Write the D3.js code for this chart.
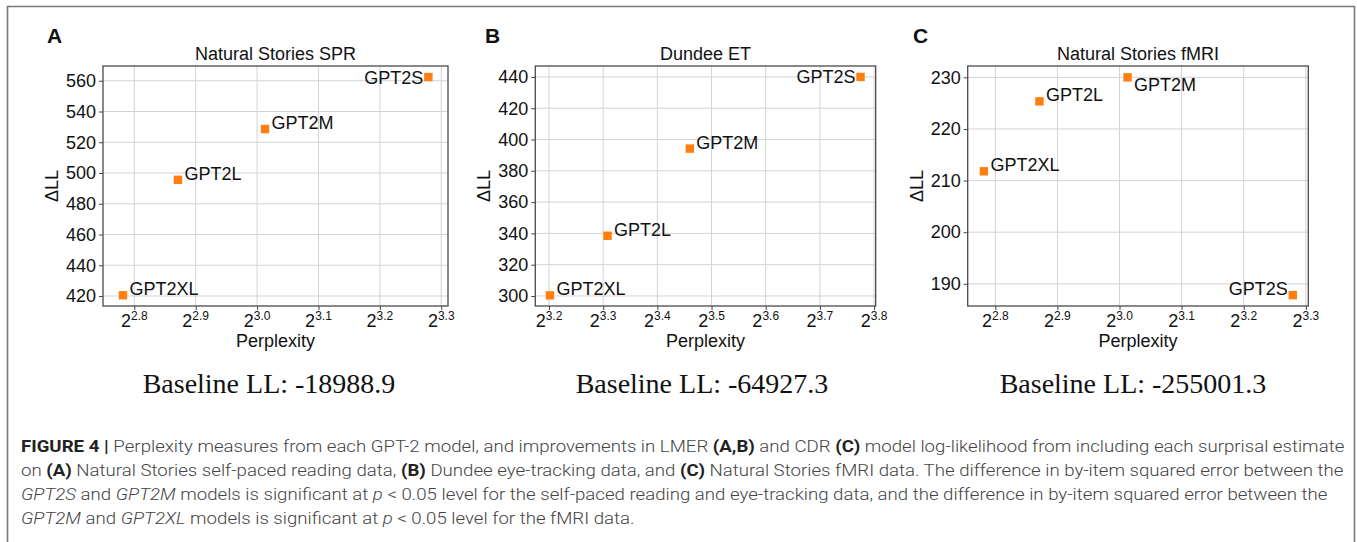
<!DOCTYPE html>
<html>
<head>
<meta charset="utf-8">
<script src="https://cdn.jsdelivr.net/npm/d3@7"></script>
<style>
  html, body { margin: 0; padding: 0; background: #fff; }
  svg { display: block; }
  .sans { font-family: "Liberation Sans", Arial, Helvetica, sans-serif; }
</style>
</head>
<body>
<svg id="fig" width="1357" height="542"></svg>
<script>
// ---------------- DATA ----------------
const models = ["GPT2XL", "GPT2L", "GPT2M", "GPT2S"];

// Perplexities (x axis, log base 2)
const pplNaturalStories = [6.876, 7.316, 8.072, 9.707];
const pplDundee = [9.201, 9.904, 11.004, 13.690];

// ΔLL values
const dllSPR = [420.5, 495.6, 528.6, 562.4];
const dllET = [300.4, 338.5, 394.2, 440.0];
const dllFMRI = [211.8, 225.35, 230.0, 187.8];

// Tick values
const xExpA = [2.8, 2.9, 3.0, 3.1, 3.2, 3.3];
const xExpB = [3.2, 3.3, 3.4, 3.5, 3.6, 3.7, 3.8];
const xExpC = [2.8, 2.9, 3.0, 3.1, 3.2, 3.3];
const yTicksA = [420, 440, 460, 480, 500, 520, 540, 560];
const yTicksB = [300, 320, 340, 360, 380, 400, 420, 440];
const yTicksC = [190, 200, 210, 220, 230];

const panelLetters = ["A", "B", "C"];
const panelTitles = ["Natural Stories SPR", "Dundee ET", "Natural Stories fMRI"];
const baselineLL = ["-18988.9", "-64927.3", "-255001.3"];

// ---------------- LAYOUT ----------------
const panels = [
  { letter: panelLetters[0], title: panelTitles[0], xs: pplNaturalStories, ys: dllSPR, xExp: xExpA, yTicks: yTicksA,
    baseline: baselineLL[0], x0: 103, x1: 448, xDom: [2.749, 3.311], yDom: [413.5, 569.6],
    letterX: 47, ylabX: 51, baseX: 269,
    place: ["ne", "ne", "ne", "w"] },
  { letter: panelLetters[1], title: panelTitles[1], xs: pplDundee, ys: dllET, xExp: xExpB, yTicks: yTicksB,
    baseline: baselineLL[1], x0: 535.3, x1: 875.7, xDom: [3.1747, 3.803], yDom: [293.6, 447],
    letterX: 485, ylabX: 483, baseX: 702,
    place: ["ne", "ne", "ne", "w"] },
  { letter: panelLetters[2], title: panelTitles[2], xs: pplNaturalStories, ys: dllFMRI, xExp: xExpC, yTicks: yTicksC,
    baseline: baselineLL[2], x0: 967.7, x1: 1308.3, xDom: [2.7555, 3.304], yDom: [185.7, 232.2],
    letterX: 913, ylabX: 916, baseX: 1133,
    place: ["ne", "ne", "se", "nw"] }
];
const yTop = 66, yBot = 306;
const orange = "#ff7f0e";
const fs = 18;

const svg = d3.select("#fig");

// outer frame
svg.append("path")
  .attr("d", "M7.5,542 L7.5,6.5 L1354.5,6.5 L1354.5,542")
  .attr("fill", "none").attr("stroke", "#7a7a7a").attr("stroke-width", 1.6);

panels.forEach(p => {
  const g = svg.append("g").attr("class", "sans");
  const x = d3.scaleLog().base(2).domain(p.xDom.map(e => Math.pow(2, e))).range([p.x0, p.x1]);
  const y = d3.scaleLinear().domain(p.yDom).range([yBot, yTop]);
  const xTickVals = p.xExp.map(e => Math.pow(2, e));

  // grid
  g.append("g").selectAll("line.gx").data(xTickVals).join("line")
    .attr("x1", d => x(d)).attr("x2", d => x(d)).attr("y1", yTop).attr("y2", yBot)
    .attr("stroke", "#d3d3d3").attr("stroke-width", 1);
  g.append("g").selectAll("line.gy").data(p.yTicks).join("line")
    .attr("y1", d => y(d)).attr("y2", d => y(d)).attr("x1", p.x0).attr("x2", p.x1)
    .attr("stroke", "#d3d3d3").attr("stroke-width", 1);

  // axes
  const yAxis = d3.axisLeft(y).tickValues(p.yTicks).tickSize(4).tickPadding(3).tickFormat(d3.format("d"));
  const ya = g.append("g").attr("transform", `translate(${p.x0},0)`).call(yAxis);
  ya.select(".domain").remove();
  ya.selectAll(".tick line").attr("stroke", "#444").attr("stroke-width", 1);
  ya.selectAll(".tick text").attr("font-size", fs).attr("fill", "#111")
    .attr("font-family", '"Liberation Sans", Arial, sans-serif');

  const xAxis = d3.axisBottom(x).tickValues(xTickVals).tickSize(4).tickFormat("");
  const xa = g.append("g").attr("transform", `translate(0,${yBot})`).call(xAxis);
  xa.select(".domain").remove();
  xa.selectAll(".tick line").attr("stroke", "#444").attr("stroke-width", 1);
  xa.selectAll(".tick text").remove();
  // custom power labels
  const lab = g.append("g").selectAll("text.xt").data(p.xExp).join("text")
    .attr("text-anchor", "middle")
    .attr("x", (d) => x(Math.pow(2, d)))
    .attr("y", 327)
    .attr("fill", "#111")
    .attr("font-size", fs);
  lab.append("tspan").text("2");
  lab.append("tspan").attr("font-size", 12).attr("dy", -7).text(d => d.toFixed(1));

  // frame
  g.append("rect").attr("x", p.x0).attr("y", yTop).attr("width", p.x1 - p.x0).attr("height", yBot - yTop)
    .attr("fill", "none").attr("stroke", "#4a4a4a").attr("stroke-width", 1.3);

  // markers
  const pts = p.xs.map((v, i) => ({ x: v, y: p.ys[i], name: models[i], place: p.place[i] }));
  const ms = 8.4;
  g.append("g").selectAll("rect.m").data(pts).join("rect")
    .attr("x", d => x(d.x) - ms / 2).attr("y", d => y(d.y) - ms / 2)
    .attr("width", ms).attr("height", ms).attr("fill", orange);

  // labels
  g.append("g").selectAll("text.pl").data(pts).join("text")
    .attr("font-size", fs).attr("fill", "#111")
    .attr("x", d => {
      const px = x(d.x);
      return (d.place === "w" || d.place === "nw") ? px - 5 : px + 6.5;
    })
    .attr("y", d => {
      const py = y(d.y);
      if (d.place === "w") return py + 6.5;
      if (d.place === "se") return py + 14;
      return py;
    })
    .attr("text-anchor", d => (d.place === "w" || d.place === "nw") ? "end" : "start")
    .text(d => d.name);

  // title
  g.append("text").attr("x", (p.x0 + p.x1) / 2).attr("y", 60).attr("text-anchor", "middle")
    .attr("font-size", fs).attr("fill", "#111").text(p.title);

  // axis labels
  g.append("text").attr("x", (p.x0 + p.x1) / 2).attr("y", 347).attr("text-anchor", "middle")
    .attr("font-size", fs).attr("fill", "#111").text("Perplexity");
  g.append("text").attr("transform", `translate(${p.ylabX + 6.5},${(yTop + yBot) / 2}) rotate(-90)`)
    .attr("text-anchor", "middle").attr("font-size", fs).attr("fill", "#111").text("ΔLL");

  // panel letter
  g.append("text").attr("x", p.letterX).attr("y", 43).attr("font-size", 21).attr("font-weight", "bold")
    .attr("fill", "#111").text(p.letter);

  // baseline LL
  svg.append("text").attr("x", p.baseX).attr("y", 393).attr("text-anchor", "middle")
    .attr("font-family", '"Liberation Serif", "Times New Roman", serif')
    .attr("font-size", 28).attr("fill", "#111").text("Baseline LL: " + p.baseline);
});

// ---------------- CAPTION ----------------
const captionLines = [
  [["b", "FIGURE 4 | "], ["n", "Perplexity measures from each GPT-2 model, and improvements in LMER "], ["b", "(A,B)"], ["n", " and CDR "], ["b", "(C)"], ["n", " model log-likelihood from including each surprisal estimate"]],
  [["n", "on "], ["b", "(A)"], ["n", " Natural Stories self-paced reading data, "], ["b", "(B)"], ["n", " Dundee eye-tracking data, and "], ["b", "(C)"], ["n", " Natural Stories fMRI data. The difference in by-item squared error between the"]],
  [["i", "GPT2S"], ["n", " and "], ["i", "GPT2M"], ["n", " models is significant at "], ["i", "p"], ["n", " < 0.05 level for the self-paced reading and eye-tracking data, and the difference in by-item squared error between the"]],
  [["i", "GPT2M"], ["n", " and "], ["i", "GPT2XL"], ["n", " models is significant at "], ["i", "p"], ["n", " < 0.05 level for the fMRI data."]]
];
const capX = 21, capY0 = 452, capDY = 24, capTargetW = 1345 - 21;
const capG = svg.append("g");
const capTexts = captionLines.map((line, i) => {
  const t = capG.append("text").attr("x", 0).attr("y", 0)
    .attr("font-family", 'Roboto, "Liberation Sans", sans-serif').attr("font-size", 16.5)
    .attr("font-weight", 300).attr("fill", "#444");
  line.forEach(([k, s]) => {
    const ts = t.append("tspan").text(s);
    if (k === "b") ts.attr("font-weight", 700).attr("fill", "#222");
    if (k === "i") ts.attr("font-style", "italic");
  });
  return t;
});
const w0 = capTexts[0].node().getComputedTextLength();
const sx = capTargetW / w0;
capTexts.forEach((t, i) => t.attr("transform", `translate(${capX},${capY0 + i * capDY}) scale(${sx},1)`));
</script>
</body>
</html>
